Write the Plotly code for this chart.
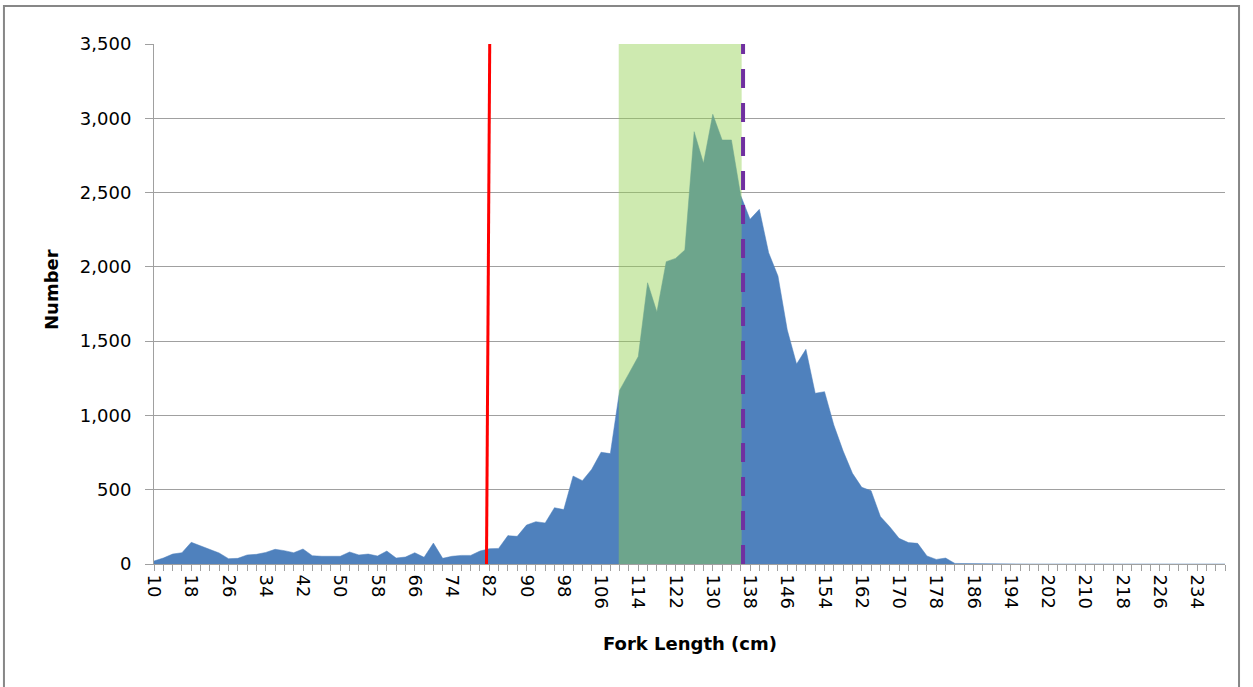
import plotly.graph_objects as go

# ---- data ----
fork_length = list(range(10, 241, 2))  # 2-cm length classes, 10..240
number = [
    20, 40, 67, 76, 146, 123, 99, 74, 36, 38,          # 10-28
    61, 65, 78, 99, 90, 76, 101, 56, 52, 54,           # 30-48
    52, 81, 61, 67, 54, 87, 40, 47, 76, 45,            # 50-68
    141, 38, 52, 58, 58, 87, 103, 105, 191, 186,       # 70-88
    262, 285, 276, 379, 366, 592, 561, 637, 752, 743,  # 90-108
    1170, 1283, 1396, 1893, 1696, 2035, 2057, 2113, 2910, 2697,  # 110-128
    3027, 2854, 2854, 2480, 2320, 2387, 2095, 1938, 1575, 1346,  # 130-148
    1445, 1149, 1160, 935, 760, 610, 516, 493, 319, 251,         # 150-168
    173, 144, 139, 54, 31, 40, 4, 3, 2, 0,             # 170-188
    0, 0, 0, 0, 0, 0, 0, 0, 0, 0,                      # 190-208
    0, 0, 0, 0, 0, 0, 0, 0, 0, 0,                      # 210-228
    0, 0, 0, 0, 0, 0,                                  # 230-240
]
x_tick_vals = [10, 18, 26, 34, 42, 50, 58, 66, 74, 82, 90, 98, 106, 114, 122,
               130, 138, 146, 154, 162, 170, 178, 186, 194, 202, 210, 218, 226, 234]
y_tick_vals = [0, 500, 1000, 1500, 2000, 2500, 3000, 3500]

red_line_top_x = 82.1
red_line_bottom_x = 81.4
band_start = 109.8
band_end = 136.2
purple_line_x = 136.5

BLUE = "#4F81BD"
GRID = "#A0A0A0"
FONT = "DejaVu Sans"

fig = go.Figure()
fig.add_trace(go.Scatter(
    x=fork_length, y=number, mode="lines", fill="tozeroy",
    fillcolor=BLUE, line=dict(color=BLUE, width=0.5),
    hoverinfo="skip", showlegend=False,
))

shapes = [
    # green band (semi-transparent, over the area)
    dict(type="rect", xref="x", yref="y", x0=band_start, x1=band_end, y0=0, y1=3500,
         fillcolor="rgba(146,208,80,0.45)", line=dict(width=0), layer="above"),
    # purple dashed line
    dict(type="line", xref="x", yref="y", x0=purple_line_x, x1=purple_line_x, y0=0, y1=3500,
         line=dict(color="#7030A0", width=4, dash="19px,15px"), layer="above"),
    # red line
    dict(type="line", xref="x", yref="y", x0=red_line_bottom_x, x1=red_line_top_x, y0=-10, y1=3520,
         line=dict(color="#FF0000", width=3), layer="above"),
    # chart border
    dict(type="rect", xref="paper", yref="paper", x0=-0.1401, x1=1.0131, y0=-0.2423, y1=1.0731,
         line=dict(color="#878787", width=2), fillcolor="rgba(0,0,0,0)", layer="below"),
]

fig.update_layout(
    width=1253, height=687,
    margin=dict(l=154, r=28, t=44, b=123),
    paper_bgcolor="white", plot_bgcolor="white",
    shapes=shapes,
    font=dict(family=FONT, color="black"),
    xaxis=dict(
        range=[10, 240], showgrid=False, zeroline=False,
        showline=True, linecolor=GRID, linewidth=1,
        ticks="outside", ticklen=6, tickcolor=GRID,
        tickvals=x_tick_vals, ticktext=[str(v) for v in x_tick_vals],
        tickangle=90, tickfont=dict(family=FONT, size=18, color="black"),
        minor=dict(ticks="outside", dtick=2, tick0=10, ticklen=6, tickcolor=GRID),
    ),
    yaxis=dict(
        range=[0, 3500], showgrid=True, gridcolor=GRID, gridwidth=1, zeroline=False,
        showline=True, linecolor=GRID, linewidth=1,
        ticks="outside", ticklen=8, tickcolor=GRID,
        tickvals=y_tick_vals, tickformat=",",
        tickfont=dict(family=FONT, size=18, color="black"),
        ticklabelstandoff=10,
    ),
    annotations=[
        dict(text="<b>Fork Length (cm)</b>", xref="paper", yref="paper", x=0.5, y=-0.152,
             xanchor="center", yanchor="middle", showarrow=False,
             font=dict(family=FONT, size=18, color="black")),
        dict(text="<b>Number</b>", xref="paper", yref="paper", x=-0.0952, y=0.527,
             xanchor="center", yanchor="middle", textangle=-90, showarrow=False,
             font=dict(family=FONT, size=18, color="black")),
    ],
)

fig.write_html("out.html")
